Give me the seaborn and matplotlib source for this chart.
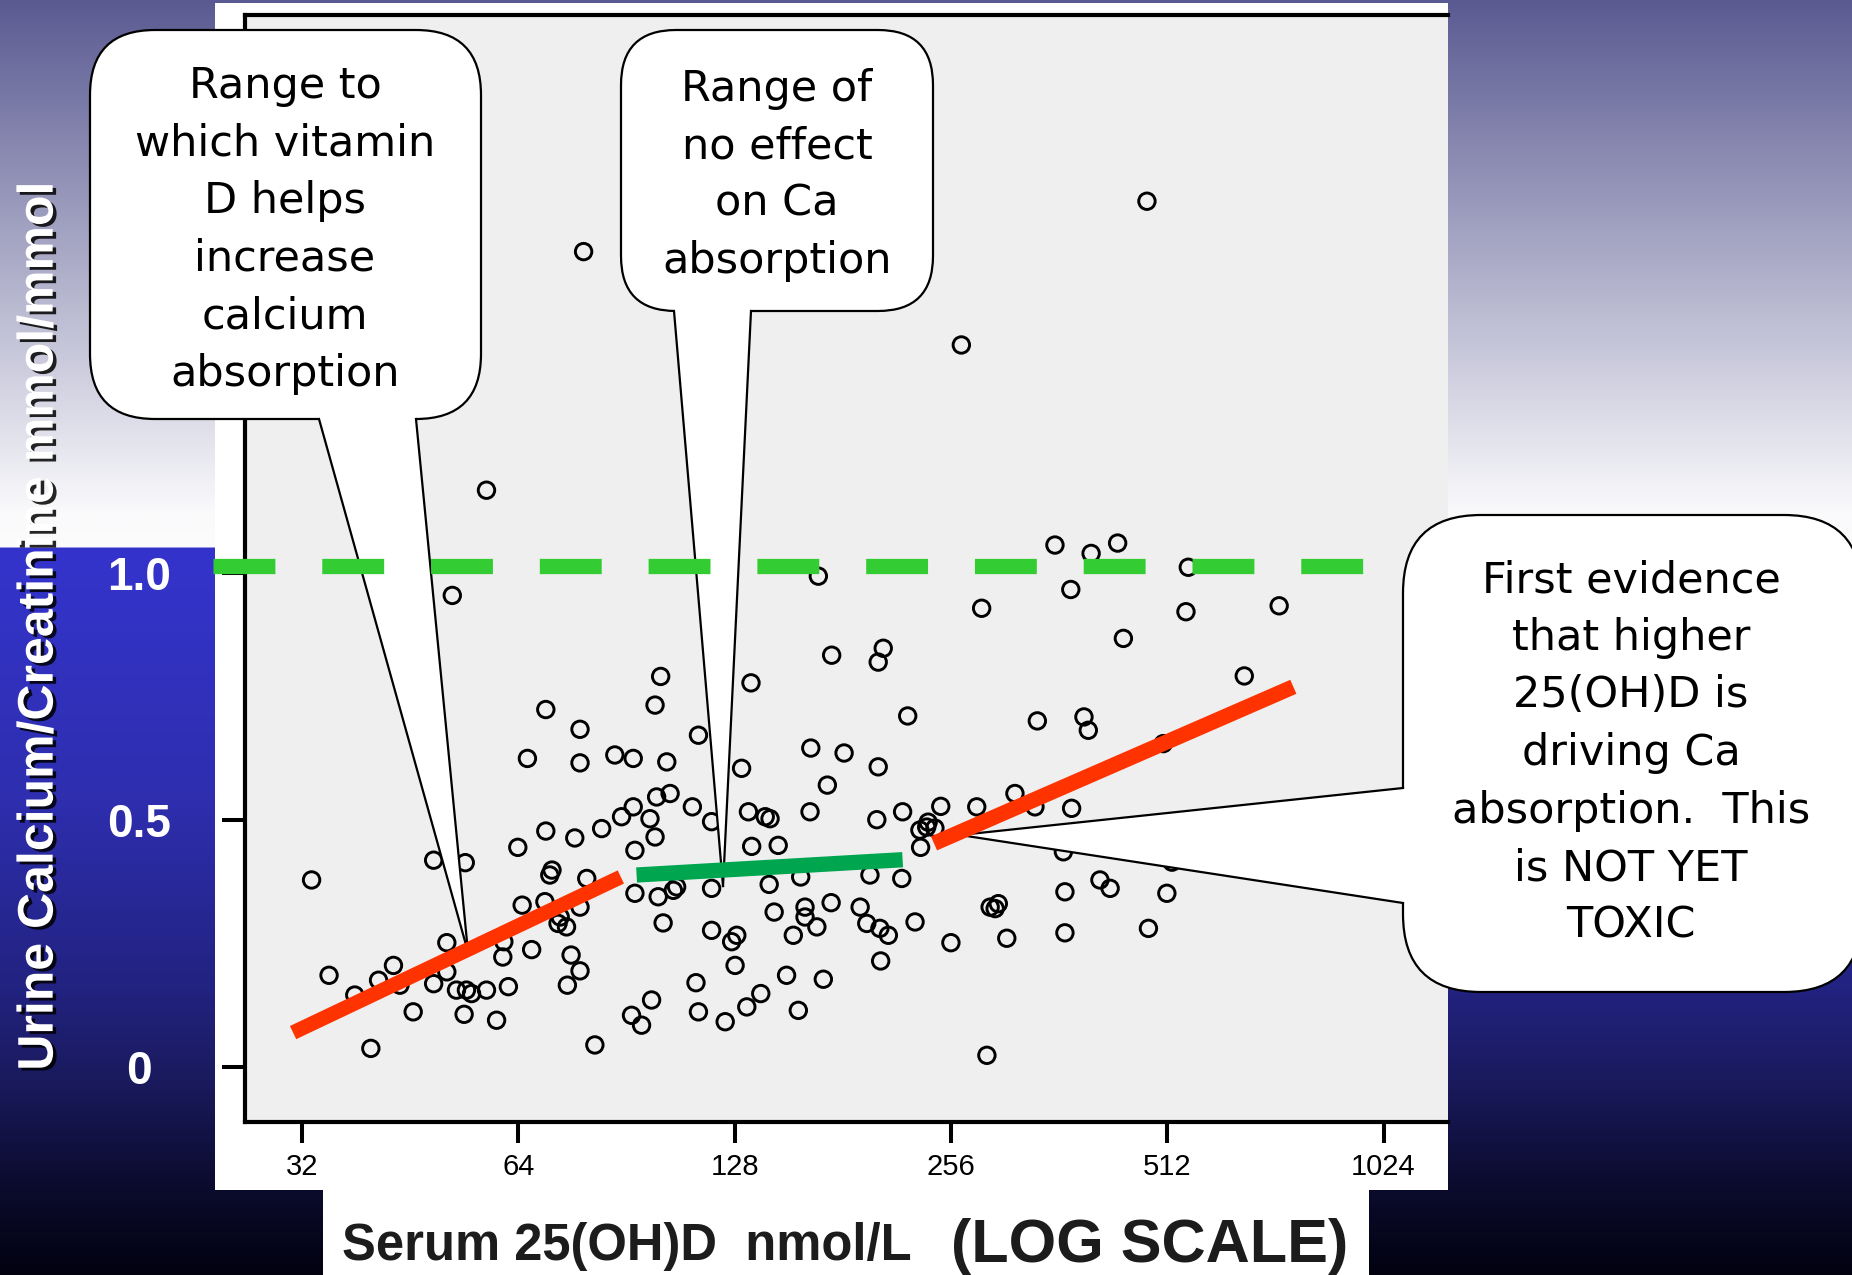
import numpy as np
import matplotlib
matplotlib.use("Agg")
import matplotlib.pyplot as plt
import seaborn as sns
from matplotlib.patches import FancyBboxPatch, Polygon, Rectangle
from matplotlib.lines import Line2D
from matplotlib.transforms import Affine2D
from matplotlib.ticker import NullLocator, FixedLocator
import matplotlib.patheffects as pe

# ---------------- data ----------------
serum = [57.8, 51.8, 69.9, 78.0, 65.9, 78.0, 87.2, 92.5, 33.0, 48.8,
         54.0, 63.9, 69.9, 76.7, 83.6, 89.1, 92.5, 93.0, 93.0, 70.8,
         71.3, 79.7, 64.8, 69.7, 73.2, 74.7, 78.0, 72.7, 50.9, 61.1,
         60.9, 66.8, 75.8, 78.0, 74.9, 34.9, 42.9, 40.9, 43.8, 37.9,
         48.8, 50.9, 52.5, 54.2, 55.1, 57.8, 62.0, 45.7, 53.8, 59.7,
         39.9, 81.8, 92.0, 95.0, 103.0, 130.9, 202.8, 172.3, 99.7, 104.1,
         111.8, 97.6, 118.9, 133.8, 141.2, 143.4, 163.0, 201.9, 219.3, 247.8,
         278.1, 99.2, 135.2, 147.2, 236.9, 231.8, 243.2, 238.0, 232.3, 197.5,
         218.7, 158.2, 143.0, 118.9, 100.2, 105.2, 106.3, 101.8, 145.3, 160.4,
         160.4, 174.4, 191.4, 195.5, 203.9, 209.5, 228.2, 256.0, 118.9, 128.9,
         126.8, 154.5, 166.6, 204.4, 128.2, 113.1, 151.2, 170.1, 98.1, 114.0,
         124.2, 133.1, 139.2, 157.0, 287.3, 290.3, 167.4, 282.5, 174.7, 206.1,
         202.8, 101.0, 99.2, 134.9, 222.9, 114.0, 163.4, 181.8, 357.3, 401.2,
         436.8, 547.8, 375.9, 543.7, 732.9, 444.9, 655.4, 337.7, 392.1, 397.6,
         505.6, 314.3, 335.1, 376.9, 367.1, 519.9, 298.0, 295.0, 368.9, 412.7,
         426.4, 511.4, 306.2, 368.9, 482.1, 78.9, 479.8, 264.7]
ratio = [1.168, 0.955, 0.724, 0.684, 0.625, 0.616, 0.632, 0.625, 0.379, 0.419,
         0.414, 0.445, 0.478, 0.464, 0.483, 0.507, 0.527, 0.439, 0.352, 0.389,
         0.399, 0.382, 0.328, 0.335, 0.304, 0.284, 0.324, 0.291, 0.252, 0.254,
         0.223, 0.238, 0.227, 0.195, 0.166, 0.186, 0.206, 0.176, 0.166, 0.146,
         0.169, 0.193, 0.156, 0.156, 0.149, 0.156, 0.163, 0.112, 0.107, 0.095,
         0.038, 0.045, 0.105, 0.085, 0.618, 0.605, 0.608, 0.571, 0.547, 0.554,
         0.527, 0.503, 0.497, 0.517, 0.507, 0.503, 0.517, 0.501, 0.517, 0.528,
         0.527, 0.466, 0.447, 0.449, 0.486, 0.480, 0.484, 0.496, 0.445, 0.389,
         0.382, 0.385, 0.370, 0.362, 0.345, 0.358, 0.365, 0.292, 0.314, 0.324,
         0.304, 0.333, 0.324, 0.291, 0.281, 0.267, 0.294, 0.252, 0.277, 0.267,
         0.254, 0.267, 0.284, 0.215, 0.206, 0.171, 0.186, 0.178, 0.136, 0.112,
         0.092, 0.122, 0.149, 0.115, 0.024, 0.324, 0.994, 0.929, 0.834, 0.848,
         0.820, 0.791, 0.733, 0.778, 0.711, 0.672, 0.646, 0.636, 1.057, 1.040,
         1.061, 1.012, 0.967, 0.922, 0.934, 0.868, 0.792, 0.701, 0.709, 0.682,
         0.655, 0.554, 0.527, 0.524, 0.436, 0.415, 0.331, 0.321, 0.355, 0.379,
         0.362, 0.352, 0.261, 0.272, 0.281, 1.651, 1.753, 1.462]

red_low_x, red_low_y = [31.1, 88.9], [0.070, 0.385]
green_mid_x, green_mid_y = [93.5, 219.3], [0.389, 0.420]
red_high_x, red_high_y = [242.5, 767.0], [0.453, 0.770]
threshold_x, threshold_y = [24.1, 968.0], [1.015, 1.015]

x_ticks = [32, 64, 128, 256, 512, 1024]
x_tick_labels = ["32", "64", "128", "256", "512", "1024"]
y_ticks = [0, 0.5, 1.0]
y_tick_labels = ["0", "0.5", "1.0"]

y_label = "Urine Calcium/Creatinine mmol/mmol"
x_label_main = "Serum 25(OH)D  nmol/L"
x_label_extra = "(LOG SCALE)"

callout_1 = "Range to\nwhich vitamin\nD helps\nincrease\ncalcium\nabsorption"
callout_2 = "Range of\nno effect\non Ca\nabsorption"
callout_3 = "First evidence\nthat higher\n25(OH)D is\ndriving Ca\nabsorption.  This\nis NOT YET\nTOXIC"

# ---------------- figure ----------------
W, H = 1852, 1275
fig = plt.figure(figsize=(W / 100, H / 100), dpi=100)
px = Affine2D().scale(1 / W, -1 / H).translate(0, 1) + fig.transFigure

# background gradient
bg = fig.add_axes([0, 0, 1, 1], zorder=0)
bg.set_axis_off()
stops_y = [0, 513, 547, 548, 800, 990, 1080, 1180, 1275]
stops_c = np.array([(90, 90, 146), (250, 250, 252), (252, 252, 252), (52, 52, 205),
                    (46, 46, 175), (34, 34, 128), (26, 26, 94), (12, 12, 48),
                    (2, 2, 16)]) / 255.0
yy = np.arange(H) + 0.5
grad = np.stack([np.interp(yy, stops_y, stops_c[:, i]) for i in range(3)], axis=-1)[:, None, :]
bg.imshow(grad, extent=[0, W, H, 0], aspect="auto", interpolation="bilinear")
bg.set_xlim(0, W)
bg.set_ylim(H, 0)
bg.add_patch(Rectangle((215, 3), 1448 - 215, 1190 - 3, fc="white", ec="none"))
bg.add_patch(Rectangle((323, 1185), 1369 - 323, 100, fc="white", ec="none"))

# main axes
ax = fig.add_axes([245 / W, 1 - 1122 / H, (1448 - 245) / W, (1122 - 15) / H], zorder=1)
ax.set_facecolor("#efefef")
sns.scatterplot(x=serum, y=ratio, ax=ax, s=140, facecolors="none",
                edgecolor="black", linewidth=2.1, zorder=2)
ax.set_xscale("log", base=2)
ax.set_xlim(26.66, 1259)
ax.set_ylim(-0.111, 2.13)

ax.xaxis.set_major_locator(FixedLocator(x_ticks))
ax.xaxis.set_minor_locator(NullLocator())
ax.set_xticks(x_ticks)
ax.set_xticklabels(x_tick_labels, fontsize=21,
                   family=["Liberation Sans Narrow", "Liberation Sans"])
ax.set_yticks(y_ticks)
ax.set_yticklabels(y_tick_labels, fontsize=33, fontweight="bold", color="white",
                   family="Liberation Sans", ha="center")
ax.tick_params(axis="x", length=15, width=2.9, pad=7, color="black", labelcolor="black")
ax.tick_params(axis="y", length=16.5, width=2.9, pad=60, color="black")
for side in ["top", "left", "bottom"]:
    ax.spines[side].set_linewidth(3)
    ax.spines[side].set_color("black")
ax.spines["right"].set_visible(False)
ax.set_xlabel("")

# y label
ax.set_ylabel(y_label, fontsize=36, fontweight="bold", color="white",
              family="Liberation Sans")
ax.yaxis.set_label_coords(-0.1516, 0.448)
ax.yaxis.label.set_path_effects([pe.withSimplePatchShadow(offset=(2.5, -2), shadow_rgbFace="black", alpha=0.85)])

# x label (two parts)
ax.text(342, 1260, x_label_main, transform=px, fontsize=36.5, fontweight="bold",
        color="#1c1c1c", family="Liberation Sans", ha="left", va="baseline", clip_on=False)
ax.text(951, 1262, x_label_extra, transform=px, fontsize=44, fontweight="bold",
        color="#1c1c1c", family="Liberation Sans", ha="left", va="baseline", clip_on=False)

# lines
ax.plot(threshold_x, threshold_y, color="#33cc33", lw=11, dashes=(4.05, 3.07),
        dash_capstyle="butt", clip_on=False, zorder=4)
ax.plot(red_low_x, red_low_y, color="#ff3300", lw=10.5, solid_capstyle="butt", zorder=4)
ax.plot(green_mid_x, green_mid_y, color="#00a550", lw=11, solid_capstyle="butt", zorder=4)
ax.plot(red_high_x, red_high_y, color="#ff3300", lw=11, solid_capstyle="butt", zorder=4)


# callouts
def callout(box, r, base1, base2, tip, text, center, side="bottom"):
    x0, y0, x1, y1 = box
    ax.add_patch(FancyBboxPatch((x0, y0), x1 - x0, y1 - y0,
                                boxstyle=f"round,pad=0,rounding_size={r}",
                                fc="white", ec="black", lw=1.6, transform=px,
                                clip_on=False, zorder=3))
    if side == "bottom":
        poly = [(base1[0] - 1, base1[1] - 6), base1, tip, base2, (base2[0] + 1, base2[1] - 6)]
    else:
        poly = [(base1[0] + 6, base1[1] - 1), base1, tip, base2, (base2[0] + 6, base2[1] + 1)]
    ax.add_patch(Polygon(poly, closed=True, fc="white", ec="none", transform=px,
                         clip_on=False, zorder=3.1))
    for b in (base1, base2):
        ax.add_line(Line2D([b[0], tip[0]], [b[1], tip[1]], color="black", lw=1.6,
                           transform=px, clip_on=False, zorder=3.2))
    ax.text(center[0], center[1], text, transform=px, ha="center", va="center",
            multialignment="center", fontsize=31, family="DejaVu Sans",
            linespacing=1.47, color="black", clip_on=False, zorder=5)


callout((90, 30, 481, 419), 65, (319, 419), (416, 419), (468, 952), callout_1, (285, 230))
callout((621, 30, 933, 311), 55, (674, 311), (751, 311), (723, 886), callout_2, (777, 175))
callout((1403, 515, 1862, 992), 78, (1403, 788), (1403, 903), (960, 835), callout_3,
        (1631, 753), side="left")

fig.savefig("out.png", dpi=100)
